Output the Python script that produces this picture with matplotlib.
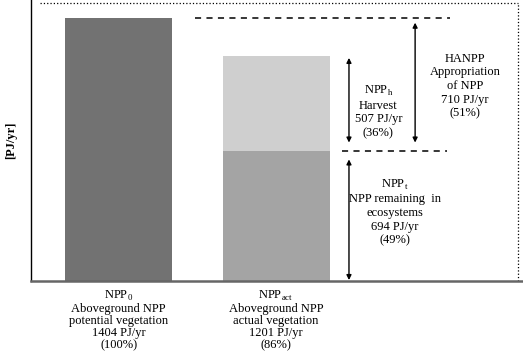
import numpy as np
import matplotlib
matplotlib.use('Agg')
import matplotlib.pyplot as plt

plt.rcParams['font.family'] = ['Liberation Serif', 'DejaVu Serif']
plt.rcParams['mathtext.fontset'] = 'custom'
plt.rcParams['mathtext.rm'] = 'Liberation Serif'

# values in PJ/yr
npp_0 = 1404
npp_act = 1201
npp_t = 694
npp_h = npp_act - npp_t
hanpp = 710

bar_labels = [r'NPP$_{0}$' + '\nAboveground NPP\npotential vegetation\n1404 PJ/yr\n(100%)',
              r'NPP$_{\mathrm{act}}$' + '\nAboveground NPP\nactual vegetation\n1201 PJ/yr\n(86%)']
harvest_label = r'NPP$_{\mathrm{h}}$' + '\nHarvest\n507 PJ/yr\n(36%)'
hanpp_label = 'HANPP\nAppropriation\nof NPP\n710 PJ/yr\n(51%)'
remain_label = r'NPP$_{\mathrm{t}}$' + '\nNPP remaining  in\necosystems\n694 PJ/yr\n(49%)'

fig = plt.figure(figsize=(5.23, 3.53), dpi=100)
ax = fig.add_axes([31/523, 72/353, 492/523, 281/353])

w = 0.68
ax.bar(0, npp_0, width=w, color='#727272', edgecolor='none')
ax.bar(1, npp_t, width=w, color='#a4a4a4', edgecolor='none')
ax.bar(1, npp_h, bottom=npp_t, width=w, color='#cfcfcf', edgecolor='none')

ax.set_xlim(-0.556, 2.568)
ax.set_ylim(0, 1500)

# dashed reference lines
ax.plot([0.486, 2.105], [npp_0, npp_0], ls=(0, (4, 3.5)), color='black', lw=1.1)
ax.plot([1.419, 2.086], [npp_t, npp_t], ls=(0, (4, 3.5)), color='black', lw=1.1)

arr = dict(arrowstyle='<|-|>', color='black', lw=1.0, mutation_scale=7,
           shrinkA=0, shrinkB=0)
ax.annotate('', xy=(1.463, npp_act - 10), xytext=(1.463, npp_t + 45), arrowprops=arr)
ax.annotate('', xy=(1.883, npp_0 - 25), xytext=(1.883, npp_t + 45), arrowprops=arr)
ax.annotate('', xy=(1.463, npp_t - 45), xytext=(1.463, 5), arrowprops=arr)

fs = 9
ls = 1.2
ax.text(1.65, 905, harvest_label, ha='center', va='center', fontsize=fs, linespacing=ls)
ax.text(2.2, 1040, hanpp_label, ha='center', va='center', fontsize=fs, linespacing=ls)
ax.text(1.756, 368, remain_label, ha='center', va='center', fontsize=fs, linespacing=ls)

for i, lab in enumerate(bar_labels):
    ax.text(i, -40, lab, ha='center', va='top', fontsize=fs, linespacing=1.02)

# dotted frame
ax.plot([0.018, 0.99], [0.989, 0.989], transform=ax.transAxes, ls=':', color='black', lw=0.9, clip_on=False)
ax.plot([0.99, 0.99], [0, 0.989], transform=ax.transAxes, ls=':', color='black', lw=0.9, clip_on=False)

for s in ['top', 'right']:
    ax.spines[s].set_visible(False)
ax.spines['left'].set_linewidth(1.0)
ax.spines['bottom'].set_color('#666666')
ax.spines['bottom'].set_linewidth(1.8)
ax.set_xticks([])
ax.set_yticks([])
ax.set_ylabel('[PJ/yr]', fontsize=9, fontweight='bold', labelpad=10)

fig.savefig('out.png', dpi=100)
